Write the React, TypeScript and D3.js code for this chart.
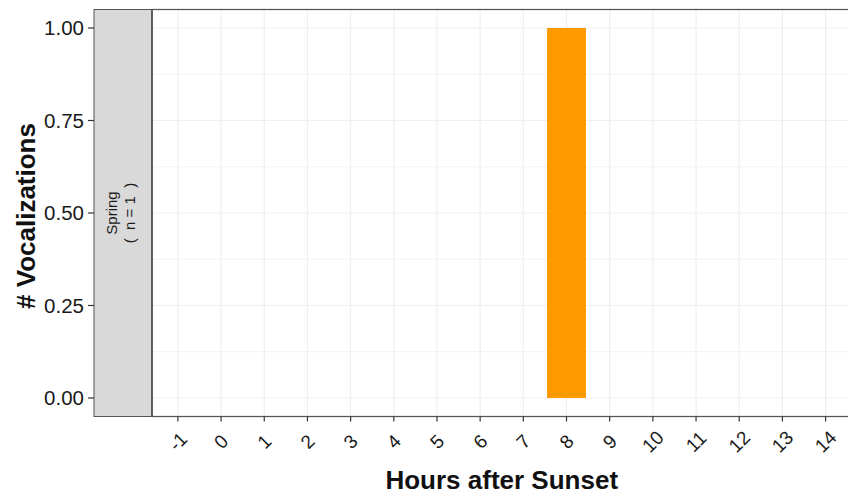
import React from "react";
import * as d3 from "d3";

const hours: string[] = ["-1","0","1","2","3","4","5","6","7","8","9","10","11","12","13","14"];
const vocalizations: number[] = [0,0,0,0,0,0,0,0,0,1,0,0,0,0,0,0];
const yTicks: number[] = [0, 0.25, 0.5, 0.75, 1.0];
const yMinor: number[] = [0.125, 0.375, 0.625, 0.875];
const stripLines: string[] = ["Spring", "(  n = 1  )"];

const W = 848, H = 497;
const panelL = 152, panelR = 851.5, panelT = 9.5, panelB = 416.5;
const stripL = 94;
const font = "'Liberation Sans', Arial, sans-serif";

export default function App() {
  const step = (panelR - panelL) / (hours.length + 0.2);
  const x = d3.scaleBand<string>()
    .domain(hours)
    .range([panelL + 0.6 * step - step / 2, panelR - 0.6 * step + step / 2])
    .paddingInner(0.1)
    .paddingOuter(0.05);
  const cx = (h: string) => (x(h) as number) + x.bandwidth() / 2;
  const bw = step * 0.9;
  const y = d3.scaleLinear().domain([-0.05, 1.05]).range([panelB, panelT]);
  const fmt = d3.format(".2f");
  const grid = "#efefef";
  const midY = (panelT + panelB) / 2;
  return (
    <svg width={W} height={H} style={{ position: "absolute", left: 0, top: 0, background: "#fff" }}>
      <rect x={0} y={0} width={W} height={H} fill="#fff" />
      {yMinor.map((v) => (
        <line key={"m" + v} x1={panelL} x2={panelR} y1={y(v)} y2={y(v)} stroke={grid} strokeWidth={0.8} />
      ))}
      {yTicks.map((v) => (
        <line key={"g" + v} x1={panelL} x2={panelR} y1={y(v)} y2={y(v)} stroke={grid} strokeWidth={1.2} />
      ))}
      {hours.map((h) => (
        <line key={"v" + h} x1={cx(h)} x2={cx(h)} y1={panelT} y2={panelB} stroke={grid} strokeWidth={1.2} />
      ))}
      {hours.map((h, i) => (
        vocalizations[i] > 0 ? (
          <rect key={"b" + h} x={cx(h) - bw / 2} width={bw} y={y(vocalizations[i])}
            height={y(0) - y(vocalizations[i])} fill="#FF9900" />
        ) : null
      ))}
      <rect x={stripL} y={panelT} width={panelL - stripL} height={panelB - panelT} fill="#d9d9d9" stroke="#555" strokeWidth={1} />
      <g transform={`translate(${(stripL + panelL) / 2},${midY}) rotate(-90)`}>
        {stripLines.map((s, i) => (
          <text key={s} x={0} y={i === 0 ? -6 : 12} textAnchor="middle" fontFamily={font} fontSize={15}
            fill="#1a1a1a" style={{ whiteSpace: "pre" }}>{s}</text>
        ))}
      </g>
      <rect x={panelL} y={panelT} width={panelR - panelL} height={panelB - panelT} fill="none" stroke="#333" strokeWidth={1.2} />
      <line x1={stripL} x2={panelR} y1={panelT} y2={panelT} stroke="#555" strokeWidth={1.2} />
      <line x1={stripL} x2={panelR} y1={panelB} y2={panelB} stroke="#555" strokeWidth={1.2} />
      {yTicks.map((v) => (
        <g key={"yt" + v}>
          <line x1={stripL - 6} x2={stripL} y1={y(v)} y2={y(v)} stroke="#333" strokeWidth={1.2} />
          <text x={stripL - 10} y={y(v)} dy="0.36em" textAnchor="end" fontFamily={font} fontSize={20.5} fill="#1a1a1a">{fmt(v)}</text>
        </g>
      ))}
      {hours.map((h) => (
        <g key={"xt" + h}>
          <line x1={cx(h)} x2={cx(h)} y1={panelB} y2={panelB + 5} stroke="#333" strokeWidth={1.2} />
          <text transform={`translate(${cx(h)},${panelB + 25}) rotate(-45)`} textAnchor="middle" dy="0.35em"
            fontFamily={font} fontSize={19} fill="#1a1a1a">{h}</text>
        </g>
      ))}
      <text x={(panelL + panelR) / 2} y={489} textAnchor="middle" fontFamily={font} fontSize={26} fontWeight="bold" fill="#111">Hours after Sunset</text>
      <text transform={`translate(35,${midY + 3}) rotate(-90)`} textAnchor="middle" fontFamily={font} fontSize={26} fontWeight="bold" fill="#111">
        # Vocalizations
      </text>
    </svg>
  );
}
